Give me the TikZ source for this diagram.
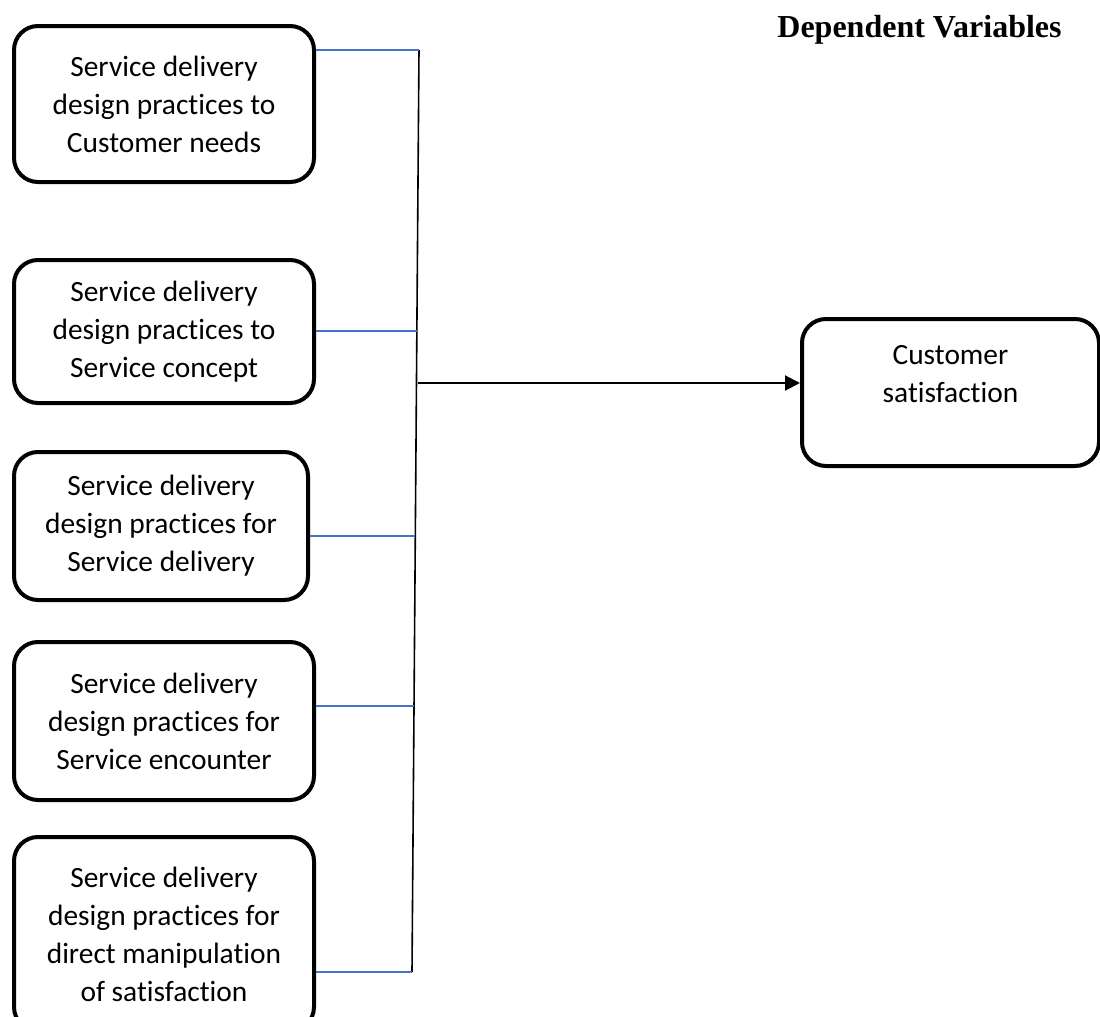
\documentclass[tikz,border=0pt]{standalone}
\usepackage{fontspec}
\setmainfont{Carlito}[Ligatures=NoCommon]
\newfontfamily\titlefont{Liberation Serif}
\usetikzlibrary{arrows.meta}
\definecolor{linkblue}{HTML}{4472C4}
\tikzset{
  varbox/.style={draw, line width=2pt, rounded corners=12pt, align=center,
    minimum width=150pt, inner sep=0pt, font=\fontsize{14.7}{19}\selectfont},
  link/.style={draw=linkblue, line width=0.8pt},
  trunk/.style={draw, line width=0.8pt}
}
\begin{document}
\begin{tikzpicture}[x=0.5pt, y=-0.5pt]
       \useasboundingbox (0,0) rectangle (1100,1017);
       % independent variables
       \node [varbox, minimum height=78pt] (n1) at (164,104) {Service delivery\\design practices to\\Customer needs};
       \node [varbox, minimum height=71.5pt] (n2) at (164,331.5) {Service delivery\\design practices to\\Service concept};
       \node [varbox, minimum width=147pt, minimum height=74pt] (n3) at (161,526) {Service delivery\\design practices for\\Service delivery};
       \node [varbox, minimum height=79pt] (n4) at (164,721) {Service delivery\\design practices for\\Service encounter};
       \node [varbox, minimum height=97pt] (n5) at (164,934) {Service delivery\\design practices for\\direct manipulation\\of satisfaction};
       % dependent variable
       \node [varbox, minimum width=148.5pt, minimum height=73.5pt] (cs) at (950.5,392.5) {Customer\\satisfaction\\ \mbox{}};
       \node [font=\titlefont\bfseries\fontsize{16}{19}\selectfont] (title) at (919.5,30) {Dependent Variables};
       % joining line
       \coordinate (top) at (419,50);
       \coordinate (bot) at (412,972);
       \coordinate (j2) at (417,331);
       \coordinate (j3) at (415,536);
       \coordinate (j4) at (414,706);
       \coordinate (mid) at (418,383);
       \path[trunk] (top) -- (bot);
       \path[link] (top -| n1.east) -- (top);
       \path[link] (j2 -| n2.east) -- (j2);
       \path[link] (j3 -| n3.east) -- (j3);
       \path[link] (j4 -| n4.east) -- (j4);
       \path[link] (bot -| n5.east) -- (bot);
       \draw[line width=1pt, -{Triangle[length=7.5pt, width=7.5pt]}] (mid) -- (mid -| cs.west);
     \end{tikzpicture}
\end{document}
